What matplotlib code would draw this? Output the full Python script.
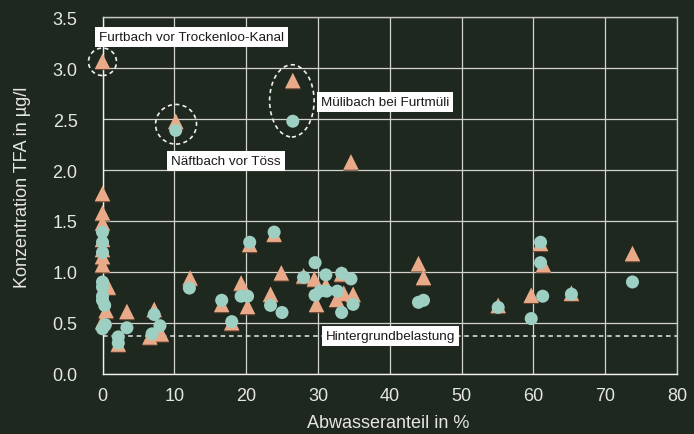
import matplotlib
matplotlib.use("Agg")
import matplotlib.pyplot as plt
from matplotlib.patches import Ellipse
import matplotlib.patheffects as pe

plt.rcParams['font.family'] = ['Liberation Sans', 'DejaVu Sans']

# Messkampagne 1 (Dreiecke)
tri_x = [0, 10.2, 26.5, 34.6, 0, 0, 0, 0, 0, 0, 0, 0.8, 0.5, 0, 3.4, 2.2,
         7.2, 6.6, 8.2, 12.2, 16.6, 19.3, 20.2, 18.0, 20.5, 23.9, 24.9, 23.4,
         28.0, 29.5, 31.1, 33.3, 29.8, 32.6, 33.6, 34.9, 44.0, 44.7, 55.1,
         59.7, 61.4, 61.0, 65.3, 73.8]
tri_y = [3.07, 2.48, 2.88, 2.08, 1.77, 1.58, 1.48, 1.32, 1.22, 1.15, 1.07, 0.85,
         0.62, 0.51, 0.61, 0.29, 0.63, 0.36, 0.39, 0.94, 0.68, 0.89, 0.66, 0.50,
         1.27, 1.37, 0.99, 0.78, 0.96, 0.93, 0.87, 0.98, 0.68, 0.73, 0.79, 0.78,
         1.08, 0.945, 0.67, 0.77, 1.07, 1.28, 0.79, 1.18]

# Messkampagne 2 (Kreise)
circ_x = [10.2, 26.5, 0, 0, 0, 0, 0, 0, 0, 0.3, 0, 0.4, 3.4, 2.2, 2.2, 6.9,
          8.0, 7.2, 12.1, 16.6, 19.3, 20.2, 18.0, 20.5, 23.9, 23.4, 25.0,
          29.6, 28.0, 31.1, 33.3, 34.6, 29.6, 30.3, 31.2, 32.7, 34.9, 33.3,
          44.0, 44.7, 55.1, 59.7, 61.3, 65.3, 73.8, 61.0, 61.0]
circ_y = [2.39, 2.48, 1.39, 1.29, 1.19, 0.90, 0.85, 0.76, 0.72, 0.67, 0.44, 0.48,
          0.45, 0.36, 0.30, 0.39, 0.47, 0.58, 0.84, 0.72, 0.76, 0.76, 0.51, 1.29,
          1.39, 0.67, 0.60, 1.09, 0.945, 0.97, 0.985, 0.93, 0.77, 0.81, 0.81,
          0.81, 0.68, 0.60, 0.70, 0.72, 0.65, 0.54, 0.76, 0.78, 0.90, 1.09, 1.29]

background_level = 0.37

x_ticks = [0, 10, 20, 30, 40, 50, 60, 70, 80]
y_ticks = [0.0, 0.5, 1.0, 1.5, 2.0, 2.5, 3.0, 3.5]

bg = '#1f281e'
tri_color = '#e9aa89'
circ_color = '#9dcfc3'
text_color = '#e6e6e2'

fig = plt.figure(figsize=(6.94, 4.35), dpi=100, facecolor=bg)
ax = fig.add_axes([0.1477, 0.139, 0.8278, 0.8186])
ax.set_facecolor('none')

ax.set_xlim(0, 80)
ax.set_ylim(0, 3.5)
ax.set_xticks(x_ticks)
ax.set_yticks(y_ticks)
ax.set_xticklabels([str(t) for t in x_ticks])
ax.set_yticklabels([f"{t:.1f}" for t in y_ticks])
ax.tick_params(length=0, labelsize=13, colors=text_color)
ax.tick_params(axis='x', pad=10)
ax.tick_params(axis='y', pad=18)

ax.grid(True, color='#d4d4cf', linewidth=0.9, zorder=0)
ax.set_axisbelow(True)
for side in ['top', 'right']:
    ax.spines[side].set_color('#c9c9c4')
    ax.spines[side].set_linewidth(1.0)
for side in ['left', 'bottom']:
    ax.spines[side].set_color('#f2f2f2')
    ax.spines[side].set_linewidth(1.0)

ax.set_xlabel('Abwasseranteil in %', fontsize=13, color=text_color)
ax.set_ylabel('Konzentration TFA in µg/l', fontsize=13, color=text_color)
ax.xaxis.set_label_coords(0.4965, -0.115)
ax.yaxis.set_label_coords(-0.125, 0.525)

# Hintergrundbelastung
ax.plot([0, 80], [background_level, background_level], color='#e8e8e8',
        linewidth=1.1, linestyle=(0, (3, 2.5)), zorder=2)

shadow = [pe.SimplePatchShadow(offset=(0, -0.8), shadow_rgbFace='#6b4430', alpha=0.9),
          pe.Normal()]
ax.scatter(tri_x, tri_y, marker='^', s=125, color=tri_color, edgecolors='none',
           zorder=3, clip_on=False, path_effects=shadow)
ax.scatter(circ_x, circ_y, marker='o', s=88, color=circ_color, edgecolors='none',
           zorder=4, clip_on=False)

# Markierte Messstellen
for cx, cy, w, h in [(0, 3.064, 3.9, 0.27), (10.24, 2.45, 5.7, 0.39),
                     (26.37, 2.68, 6.2, 0.71)]:
    ax.add_patch(Ellipse((cx, cy), w, h, fill=False, edgecolor='#efefef',
                         linewidth=1.2, linestyle=(0, (2.5, 2)), zorder=5,
                         clip_on=False))

box = dict(boxstyle='square,pad=0.3', facecolor='white', edgecolor='none')
ax.text(-0.5, 3.31, 'Furtbach vor Trockenloo-Kanal', fontsize=9.7, color='#1a1a1a',
        ha='left', va='center', bbox=box, zorder=6, clip_on=False)
ax.text(17.2, 2.088, 'Näftbach vor Töss', fontsize=9.7, color='#1a1a1a',
        ha='center', va='center', bbox=box, zorder=6)
ax.text(39.3, 2.67, 'Mülibach bei Furtmüli', fontsize=9.7, color='#1a1a1a',
        ha='center', va='center', bbox=box, zorder=6)
ax.text(40.1, background_level, 'Hintergrundbelastung', fontsize=9.7, color='#1a1a1a',
        ha='center', va='center', bbox=box, zorder=6)

fig.savefig('out.png', dpi=100, facecolor=bg)
